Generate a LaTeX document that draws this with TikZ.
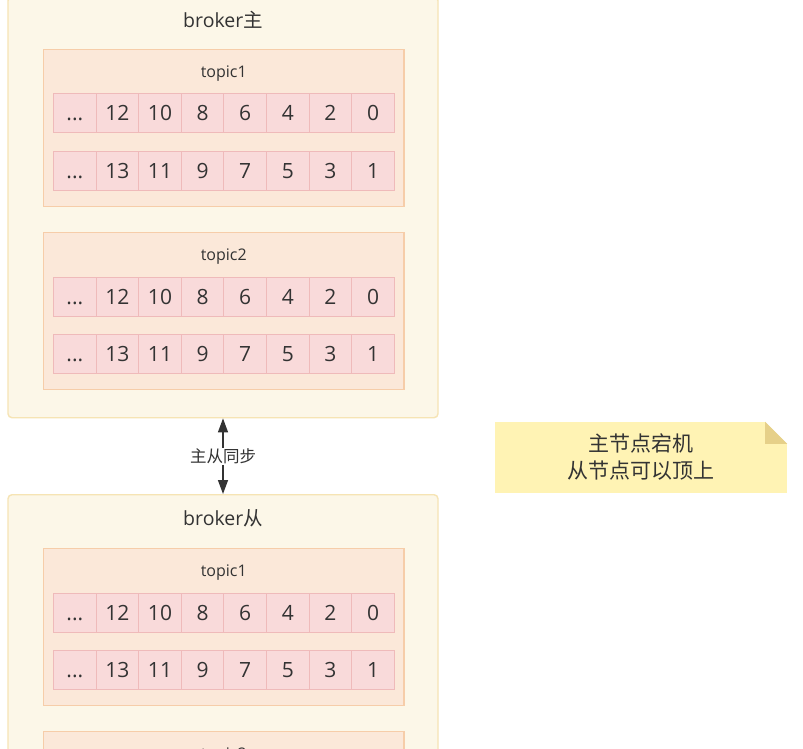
\documentclass[tikz,border=0pt]{standalone}
\usepackage{fontspec}
\setmainfont{Open Sans}
\newfontfamily\cjk{Noto Sans CJK SC}
\usetikzlibrary{arrows.meta,positioning,calc}
\definecolor{Ink}{HTML}{333333}
\definecolor{Cream}{HTML}{FCF7E8}
\definecolor{CreamLine}{HTML}{F6E4B4}
\definecolor{Peach}{HTML}{FBE8D9}
\definecolor{PeachLine}{HTML}{F6CDA9}
\definecolor{Rose}{HTML}{F9DADA}
\definecolor{RoseLine}{HTML}{EFBABA}
\definecolor{Note}{HTML}{FFF3B4}
\definecolor{NoteFold}{HTML}{E6D089}
\newcommand{\celldots}{...}
\tikzset{
  syncarr/.style={{Triangle[length=14pt,width=10pt]}-{Triangle[length=14pt,width=10pt]},line width=1.4pt,draw=Ink},
  brokerbox/.style={draw=CreamLine,fill=Cream,rounded corners=4pt,line width=1.4pt,minimum width=430pt,minimum height=421pt,anchor=north},
  topicbox/.style={draw=PeachLine,fill=Peach,line width=1.3pt,minimum width=360.5pt,minimum height=157pt,anchor=north},
  cellbox/.style={draw=RoseLine,fill=Rose,line width=1pt,minimum width=42.6pt,minimum height=39pt,inner sep=0pt,text height=15pt,text depth=0pt,text=Ink,font=\fontsize{21}{24}\selectfont},
  brokertitle/.style={text=Ink,inner sep=0pt,font=\fontsize{19.5}{22}\selectfont},
  topictitle/.style={text=Ink,inner sep=0pt,font=\fontsize{16}{18}\selectfont},
  synclabel/.style={fill=white,text=Ink,inner sep=1pt,font=\cjk\fontsize{16.5}{18}\selectfont},
  notebox/.style={fill=Note,minimum width=292pt,minimum height=71pt,inner sep=0pt,align=center,text=Ink,font=\cjk\fontsize{21}{27}\selectfont}
}
\begin{document}
\begin{tikzpicture}[x=1pt,y=-1pt]
  \useasboundingbox[fill=white] (0,0) rectangle (803,749);
  \clip (0,0) rectangle (803,749);
  % two brokers
  \node[brokerbox] (master) at (223,-4) {};
  \node[brokerbox] (slave) at (223,494) {};
  \node[brokertitle] (master-t) at ($(master.north)+(0,24)$) {broker{\cjk 主}};
  \node[brokertitle] (slave-t) at ($(slave.north)+(0,24)$) {broker{\cjk 从}};
  % topics, each with two rows of offsets
  \foreach \tp/\ty/\tn in {m1/49/1,m2/232/2,s1/548/1}{
    \node[topicbox] (\tp) at (223.75,\ty) {};
    \node[topictitle] (\tp-t) at ($(\tp.north)+(0,24.5)$) {topic\tn};
    \foreach \ev/\od [count=\i] in {\celldots/\celldots,12/13,10/11,8/9,6/7,4/5,2/3,0/1}{
      \node[cellbox] (\tp-e\i) at ({32.2+42.6*\i},\ty+64.5) {\ev};
      \node[cellbox] (\tp-o\i) at ({32.2+42.6*\i},\ty+122) {\od};
    }
  }
  % second topic of the slave, cut off by the frame
  \node[topicbox] (s2) at (223.75,731) {};
  \node[topictitle] (s2-t) at ($(s2.north)+(0,24.5)$) {topic2};
  \draw[syncarr] (master.south) -- (slave.north) node[midway,synclabel] (sync) {主从同步};
  % note
  \node[notebox] (note) at (641,457.5) {主节点宕机\\从节点可以顶上};
  \fill[white] (note.north east) -- ++(-22,0) -- ++(22,22) -- cycle;
  \fill[NoteFold] ($(note.north east)+(-22,0)$) -- ++(0,22) -- ++(22,0) -- cycle;
\end{tikzpicture}
\end{document}
